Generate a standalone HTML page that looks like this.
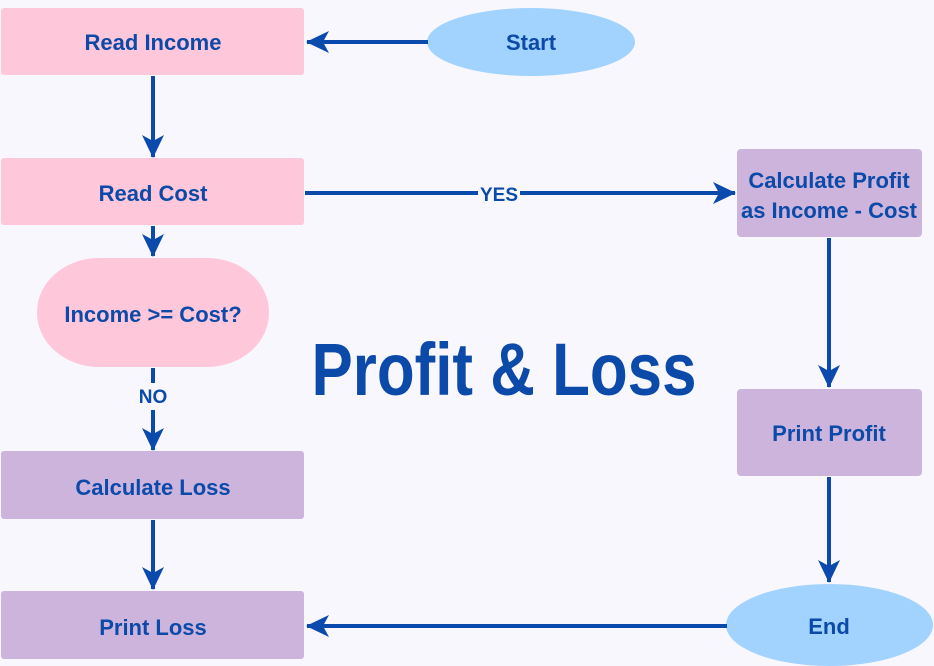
<!DOCTYPE html>
<html><head><meta charset="utf-8"><style>
html,body{margin:0;padding:0;background:#f9f7fe;}
svg{display:block}
text{font-family:"Liberation Sans",sans-serif;font-weight:bold;fill:#0b4aa8;text-anchor:middle;}
</style></head><body>
<svg width="934" height="666" viewBox="0 0 934 666" xmlns="http://www.w3.org/2000/svg">
<defs>
<marker id="a" viewBox="0 0 24 24" refX="22" refY="12" markerWidth="24" markerHeight="24" markerUnits="userSpaceOnUse" orient="auto">
<path d="M0,1 L23,12 L0,23 L6,12 Z" fill="#0b4aad"/>
</marker>
</defs>
<rect width="934" height="666" fill="#f9f7fe"/>
<g fill="#ffc7da">
<rect x="1" y="8" width="303" height="67" rx="3"/>
<rect x="1" y="158" width="303" height="67" rx="3"/>
<rect x="37" y="258" width="232" height="109" rx="62" ry="54"/>
</g>
<g fill="#cdb4dc">
<rect x="1" y="451" width="303" height="68" rx="3"/>
<rect x="1" y="591" width="303" height="68" rx="3"/>
<rect x="737" y="149" width="185" height="88" rx="4"/>
<rect x="737" y="389" width="185" height="87" rx="4"/>
</g>
<g fill="#a2d3ff">
<ellipse cx="531" cy="42" rx="104" ry="34"/>
<ellipse cx="829.5" cy="625" rx="103.5" ry="41"/>
</g>
<g stroke="#0b4aad" stroke-width="4" fill="none" marker-end="url(#a)">
<line x1="428" y1="42" x2="307" y2="42"/>
<line x1="153" y1="76" x2="153" y2="157"/>
<line x1="153" y1="226" x2="153" y2="256"/>
<line x1="153" y1="410" x2="153" y2="450"/>
<line x1="153" y1="520" x2="153" y2="589"/>
<line x1="520" y1="193" x2="735" y2="193"/>
<line x1="829" y1="238" x2="829" y2="387"/>
<line x1="829" y1="477" x2="829" y2="582"/>
<line x1="727" y1="626" x2="307" y2="626"/>
</g>
<g stroke="#0b4aad" stroke-width="4">
<line x1="153" y1="368" x2="153" y2="383"/>
<line x1="305" y1="193" x2="478" y2="193"/>
</g>
<g font-size="22">
<text x="153" y="50">Read Income</text>
<text x="531" y="50">Start</text>
<text x="153" y="201">Read Cost</text>
<text x="153" y="322">Income &gt;= Cost?</text>
<text x="153" y="495">Calculate Loss</text>
<text x="153" y="635">Print Loss</text>
<text x="829" y="188">Calculate Profit</text>
<text x="829" y="218">as Income - Cost</text>
<text x="829" y="441">Print Profit</text>
<text x="829" y="634">End</text>
</g>
<text x="153" y="403" font-size="19">NO</text>
<text x="499" y="201" font-size="19">YES</text>
<text x="504" y="395" font-size="74" textLength="385" lengthAdjust="spacingAndGlyphs">Profit &amp; Loss</text>
</svg>
</body></html>
